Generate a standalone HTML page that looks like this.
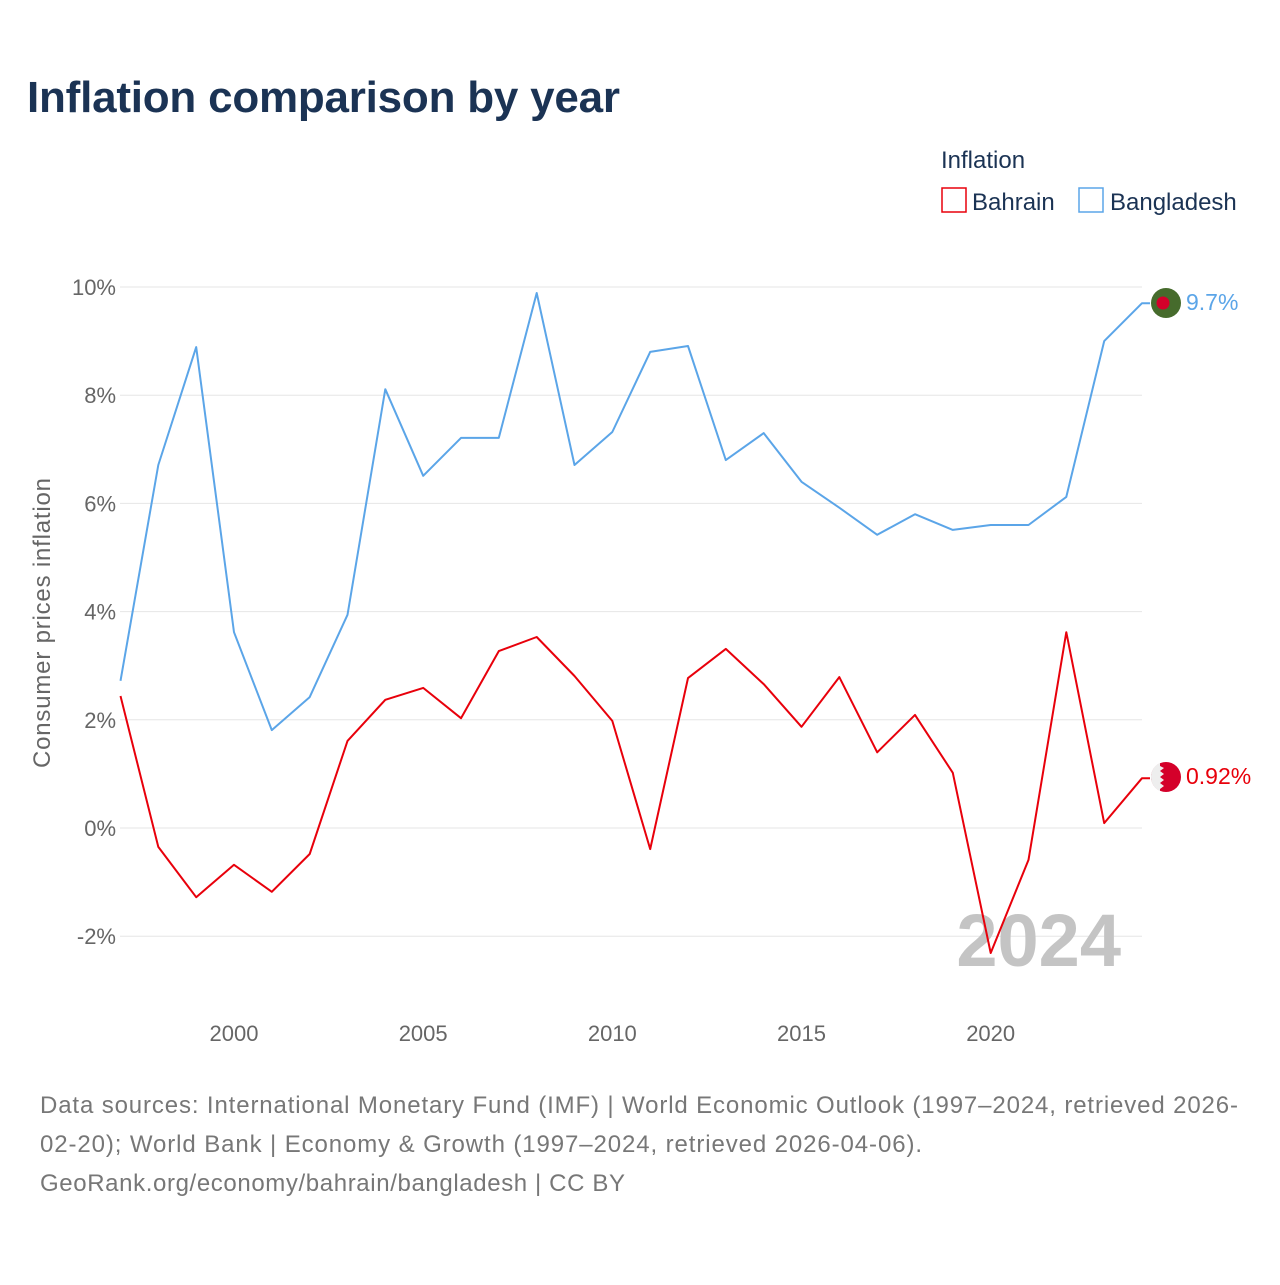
<!DOCTYPE html>
<html><head><meta charset="utf-8"><style>
body{margin:0;background:#fff;font-family:"Liberation Sans",sans-serif;}
</style></head><body>
<svg id="chart" width="1280" height="1280" xmlns="http://www.w3.org/2000/svg" font-family="Liberation Sans, sans-serif">
<rect width="1280" height="1280" fill="#fff"/>
<text x="27" y="112" font-size="44" font-weight="bold" fill="#1b3354" textLength="593">Inflation comparison by year</text>
<text x="941" y="168" font-size="24" fill="#1b3354">Inflation</text>
<g><rect x="942" y="188" width="24" height="24" fill="none" stroke="#e8000b" stroke-width="1.5"/><text x="972" y="210" font-size="24" fill="#1b3354">Bahrain</text></g>
<g><rect x="1079" y="188" width="24" height="24" fill="none" stroke="#5ba5e8" stroke-width="1.5"/><text x="1110" y="210" font-size="24" fill="#1b3354">Bangladesh</text></g>
<text transform="translate(50,623) rotate(-90)" text-anchor="middle" font-size="24" fill="#666" textLength="290">Consumer prices inflation</text>
<g id="grid"></g><g id="xt"></g>
<text x="1121" y="966" text-anchor="end" font-size="74" font-weight="bold" fill="#c4c4c4">2024</text>
<g id="lines"></g>
<g><circle cx="1166" cy="303" r="15" fill="#466b2c"/><circle cx="1163" cy="303" r="6.5" fill="#d4002a"/></g>
<g><circle cx="1166" cy="777" r="15" fill="#d4002a"/><path d="M1151,777 A15,15 0 0 1 1160,763 L1160,766 1164,768 1160,771 1164,774 1160,777 1164,780 1160,783 1164,786 1160,789 L1160,791 A15,15 0 0 1 1151,777Z" fill="#eee"/></g>
<text x="1186" y="310" font-size="23" fill="#5ba5e8">9.7%</text>
<text x="1186" y="784" font-size="23" fill="#e8000b">0.92%</text>
<g font-size="24" fill="#777">
<text x="40" y="1113" textLength="1198">Data sources: International Monetary Fund (IMF) | World Economic Outlook (1997–2024, retrieved 2026-</text>
<text x="40" y="1152" textLength="882">02-20); World Bank | Economy &amp; Growth (1997–2024, retrieved 2026-04-06).</text>
<text x="40" y="1191" textLength="585">GeoRank.org/economy/bahrain/bangladesh | CC BY</text></g>
</svg>
<script>
const years=[1997,1998,1999,2000,2001,2002,2003,2004,2005,2006,2007,2008,2009,2010,2011,2012,2013,2014,2015,2016,2017,2018,2019,2020,2021,2022,2023,2024];
const bangladesh=[2.72,6.71,8.89,3.62,1.81,2.42,3.94,8.11,6.51,7.21,7.21,9.89,6.71,7.32,8.80,8.91,6.80,7.30,6.40,5.92,5.42,5.80,5.51,5.60,5.60,6.12,9.00,9.70];
const bahrain=[2.44,-0.35,-1.28,-0.68,-1.18,-0.48,1.61,2.37,2.59,2.03,3.27,3.53,2.81,1.98,-0.39,2.77,3.31,2.66,1.87,2.79,1.40,2.09,1.02,-2.31,-0.59,3.62,0.09,0.92];
const yTicks=[-2,0,2,4,6,8,10];
const xTicks=[2000,2005,2010,2015,2020];
const NS='http://www.w3.org/2000/svg';
const X=y=>120.5+(y-1997)*(1142-120.5)/27;
const Y=v=>828-v*54.1;
const grid=document.getElementById('grid'),xt=document.getElementById('xt'),lines=document.getElementById('lines');
function mk(t,a,p){const e=document.createElementNS(NS,t);for(const k in a)e.setAttribute(k,a[k]);p.appendChild(e);return e;}
yTicks.forEach(v=>{
 const l=mk('line',{x1:120,x2:1142,y1:Y(v),y2:Y(v),stroke:'#e6e6e6','stroke-width':1},grid);
 
 
 const t=mk('text',{x:116,y:Y(v)+8,'text-anchor':'end','font-size':22,fill:'#666'},grid);
 t.textContent=v+'%';
 
 
});
xTicks.forEach(v=>{
 const t=mk('text',{x:X(v),y:1041,'text-anchor':'middle','font-size':22,fill:'#666'},xt);
 t.textContent=v;
 
 
});
function series(vals,color,name){
 let d=vals.map((v,i)=>(i?'L':'M')+X(years[i]).toFixed(1)+','+Y(v).toFixed(1)).join(' ');
 d+=' L'+(X(years[years.length-1])+8).toFixed(1)+','+Y(vals[vals.length-1]).toFixed(1);
 const p=mk('path',{d:d,fill:'none',stroke:color,'stroke-width':2,'stroke-linejoin':'round'},lines);
 
 
}
series(bangladesh,'#5ba5e8','line-bangladesh');
series(bahrain,'#e8000b','line-bahrain');
</script>
</body></html>
